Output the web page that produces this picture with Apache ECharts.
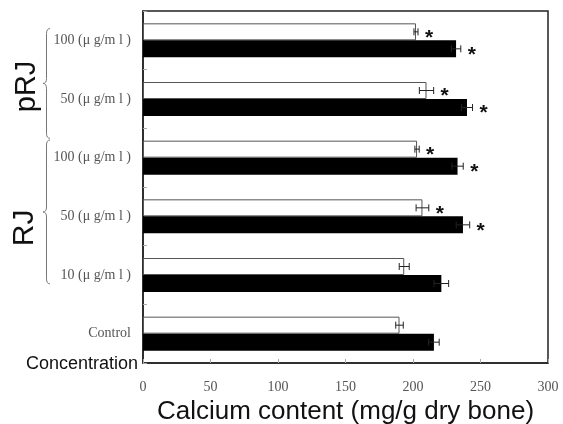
<!DOCTYPE html>
<html><head><meta charset="utf-8">
<script src="https://cdn.jsdelivr.net/npm/echarts@6/dist/echarts.min.js"></script>
<style>html,body{margin:0;padding:0;background:#fff}#c{width:563px;height:424px}</style>
</head><body><div id="c"></div>
<script>
// categories bottom -> top
const categories = ['Control', 'RJ 10', 'RJ 50', 'RJ 100', 'pRJ 50', 'pRJ 100'];
const tickLabels = ['Control', '10 (μ g/m l )', '50 (μ g/m l )', '100 (μ g/m l )', '50 (μ g/m l )', '100 (μ g/m l )'];
const openValues = [190, 193.5, 207, 203, 210, 202.2];
const openErrors = [2.8, 3.7, 4.7, 1.6, 5.3, 1.5];
const openSig = [0, 0, 1, 1, 1, 1];
const blackValues = [215.5, 221, 237, 233, 240, 231.9];
const blackErrors = [3.9, 5.4, 5.0, 4.2, 4.1, 3.5];
const blackSig = [0, 0, 1, 1, 1, 1];
const xMin = 0, xMax = 300, xInterval = 50;
const groups = [
  {name: 'pRJ', from: 4, to: 5},
  {name: 'RJ', from: 1, to: 3}
];

const BAR_W = 17;
const chart = echarts.init(document.getElementById('c'), null, {renderer: 'canvas'});

function errSeries(vals, errs, sigs, offset) {
  return {
    type: 'custom',
    z: 5,
    encode: {x: 0, y: 3},
    data: vals.map((v, i) => [v, errs[i], sigs[i], i]),
    renderItem: function (params, api) {
      const v = api.value(0), e = api.value(1), s = api.value(2), idx = api.value(3);
      const p0 = api.coord([v - e, idx]);
      const p1 = api.coord([v + e, idx]);
      const y = p0[1] + offset;
      const cap = 3.5;
      const st = {stroke: '#222', lineWidth: 1};
      const children = [
        {type: 'line', shape: {x1: p0[0], y1: y, x2: p1[0], y2: y}, style: st},
        {type: 'line', shape: {x1: p0[0], y1: y - cap, x2: p0[0], y2: y + cap}, style: st},
        {type: 'line', shape: {x1: p1[0], y1: y - cap, x2: p1[0], y2: y + cap}, style: st}
      ];
      if (s) {
        children.push({type: 'text', style: {text: '*', x: p1[0] + 11, y: y + 6,
          fill: '#111', font: 'bold 21px "Liberation Sans"', align: 'center', verticalAlign: 'middle'}});
      }
      return {type: 'group', children: children};
    }
  };
}

chart.setOption({
  animation: false,
  backgroundColor: '#fff',
  grid: {left: 143, right: 15, top: 11, bottom: 61, outerBoundsMode: 'none', containLabel: false,
    show: true, borderColor: '#222', borderWidth: 1.5, backgroundColor: 'transparent'},
  xAxis: {
    type: 'value', min: xMin, max: xMax, interval: xInterval,
    axisLine: {show: true, lineStyle: {color: '#222', width: 1.5}},
    axisTick: {show: true, inside: true, length: 4, lineStyle: {color: '#aaa'}},
    splitLine: {show: false},
    axisLabel: {color: '#555', fontFamily: 'Liberation Serif', fontSize: 14, margin: 17},
    name: 'Calcium content (mg/g dry bone)', nameLocation: 'middle', nameGap: 33,
    nameTextStyle: {color: '#111', fontFamily: 'Liberation Sans', fontSize: 26}
  },
  yAxis: {
    type: 'category', data: categories,
    axisLine: {show: true, lineStyle: {color: '#222', width: 1.5}},
    axisTick: {show: true, inside: true, length: 4, lineStyle: {color: '#aaa'}},
    axisLabel: {color: '#555', fontFamily: 'Liberation Serif', fontSize: 14, margin: 12,
      formatter: function (v, i) { return tickLabels[i]; }}
  },
  series: [
    {type: 'bar', data: openValues, barWidth: BAR_W, barGap: '0%',
      itemStyle: {color: '#fff', borderColor: '#555', borderWidth: 1}},
    {type: 'bar', data: blackValues, barWidth: BAR_W, barGap: '0%',
      itemStyle: {color: '#000', borderColor: '#000', borderWidth: 0}},
    errSeries(openValues, openErrors, openSig, -BAR_W / 2),
    errSeries(blackValues, blackErrors, blackSig, BAR_W / 2)
  ]
});

// decorations: braces and group labels, positioned from the axis scale
const c = i => chart.convertToPixel({yAxisIndex: 0}, i);
const band = Math.abs(c(0) - c(1));
function brace(y0, y1) {
  const x1 = 50, x0 = 46.5, xt = 43, r = 5, ym = (y0 + y1) / 2;
  const st = {fill: null, stroke: '#777', lineWidth: 1};
  return [
    {type: 'bezierCurve', shape: {x1: x1, y1: y0, cpx1: x0, cpy1: y0, x2: x0, y2: y0 + r}, style: st},
    {type: 'line', shape: {x1: x0, y1: y0 + r, x2: x0, y2: ym - r}, style: st},
    {type: 'bezierCurve', shape: {x1: x0, y1: ym - r, cpx1: x0, cpy1: ym, x2: xt, y2: ym}, style: st},
    {type: 'bezierCurve', shape: {x1: xt, y1: ym, cpx1: x0, cpy1: ym, x2: x0, y2: ym + r}, style: st},
    {type: 'line', shape: {x1: x0, y1: ym + r, x2: x0, y2: y1 - r}, style: st},
    {type: 'bezierCurve', shape: {x1: x0, y1: y1 - r, cpx1: x0, cpy1: y1, x2: x1, y2: y1}, style: st}
  ];
}
const pTop = c(5) - 0.2 * band, pBot = c(4) + 0.67 * band;
const rTop = c(3) - 0.3 * band, rBot = c(1) + 0.15 * band;
chart.setOption({
  graphic: [].concat(brace(pTop, pBot), brace(rTop, rBot), [
    {type: 'text', x: 27, y: (pTop + pBot) / 2 + 3, rotation: Math.PI / 2,
      style: {text: groups[0].name, fill: '#111', font: '29px "Liberation Sans"', align: 'center', verticalAlign: 'middle'}},
    {type: 'text', x: 25, y: (rTop + rBot) / 2 + 16, rotation: Math.PI / 2,
      style: {text: groups[1].name, fill: '#111', font: '30px "Liberation Sans"', align: 'center', verticalAlign: 'middle'}},
    {type: 'text', x: 138, y: 364,
      style: {text: 'Concentration', fill: '#111', font: '18px "Liberation Sans"', align: 'right', verticalAlign: 'middle'}}
  ])
});
</script></body></html>
